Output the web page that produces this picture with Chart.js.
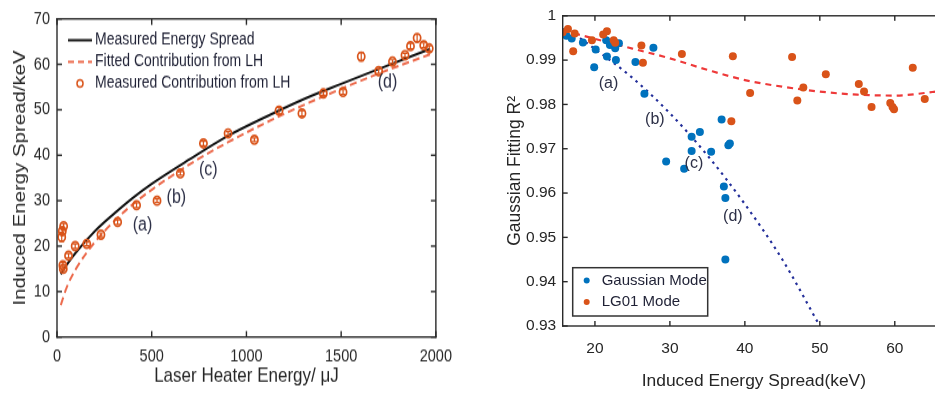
<!DOCTYPE html>
<html lang="en">
<head>
<meta charset="UTF-8">
<title>Laser heater energy spread</title>
<style>
  html, body { margin: 0; padding: 0; background: #fff; overflow: hidden; }
  body { width: 935px; height: 395px; position: relative; }
  /* the left figure of the reference is stretched vertically */
  #leftWrap { position: absolute; left: 0; top: 0; width: 460px; height: 329px; transform: scaleY(1.2006); transform-origin: 0 0; }
  #rightWrap { position: absolute; left: 470px; top: 0; width: 485px; height: 395px; }
</style>
</head>
<body>
<div id="leftWrap"><canvas id="leftChart" width="460" height="329"></canvas></div>
<div id="rightWrap"><canvas id="rightChart" width="485" height="395"></canvas></div>
<script src="https://cdn.jsdelivr.net/npm/chart.js"></script>
<script>
// ---- left panel: induced energy spread vs laser heater energy ----
const lhEnergy = [25, 28, 35, 31, 33, 61, 96, 157, 232, 320, 420, 528, 651, 773, 903, 1042, 1172, 1293, 1406, 1510, 1606, 1698, 1771, 1837, 1866, 1901, 1936, 1965];
const lhSpread = [22.0, 23.3, 24.4, 15.8, 15.0, 17.9, 20.0, 20.5, 22.5, 25.3, 29.0, 30.0, 36.0, 42.6, 44.8, 43.4, 49.8, 49.2, 53.6, 53.9, 61.7, 58.5, 60.6, 62.0, 64.0, 65.8, 64.2, 63.5];
const lhError  = [1.0, 0.8, 0.6, 0.6, 0.5, 0.5, 0.5, 0.4, 0.4, 0.5, 0.5, 0.4, 0.4, 0.5, 0.4, 0.4, 0.7, 0.6, 0.4, 0.5, 0.9, 0.5, 0.4, 0.4, 0.6, 0.8, 0.5, 0.6];

const curveEnergy   = [20, 50, 100, 200, 300, 400, 500, 700, 900, 1100, 1300, 1500, 1700, 1970];
const measuredCurve = [13.8, 15.8, 18.6, 23.3, 27.1, 30.6, 33.7, 39.1, 44.2, 48.4, 52.3, 55.7, 59.0, 63.4];
const fittedCurve   = [7.0, 10.8, 15.0, 20.9, 25.4, 29.2, 32.4, 38.0, 42.8, 47.1, 51.0, 54.6, 58.0, 62.2];

const leftXTicks = [0, 500, 1000, 1500, 2000];
const leftYTicks = [0, 10, 20, 30, 40, 50, 60, 70];
const leftNotes  = [['(a)', 451, 24.6], ['(b)', 630, 30.6], ['(c)', 799, 36.7], ['(d)', 1745, 55.9]];

// ---- right panel: Gaussian fitting R^2 vs induced energy spread ----
const gaussX = [15.8, 16.2, 16.9, 18.4, 19.9, 20.1, 21.5, 21.6, 22.0, 22.7, 22.8, 23.2, 25.4, 27.8, 26.6, 29.5, 31.9, 32.9, 32.9, 34.0, 35.5, 36.9, 37.2, 37.4, 37.8, 38.0, 37.4];
const gaussY = [0.9963, 0.9955, 0.9949, 0.9940, 0.9884, 0.9924, 0.9945, 0.9908, 0.9934, 0.9927, 0.9900, 0.9938, 0.9896, 0.9928, 0.9824, 0.9671, 0.9655, 0.9695, 0.9727, 0.9738, 0.9693, 0.9766, 0.9615, 0.9589, 0.9708, 0.9712, 0.9450];
const lgX = [15.7, 16.4, 17.3, 17.1, 19.6, 21.1, 21.6, 22.5, 22.7, 26.2, 26.4, 31.6, 38.4, 38.2, 40.7, 46.3, 47.0, 47.8, 50.8, 55.2, 55.9, 56.9, 59.4, 59.7, 59.9, 62.4, 64.0];
const lgY = [0.9963, 0.9970, 0.9960, 0.9920, 0.9945, 0.9958, 0.9965, 0.9945, 0.9939, 0.9933, 0.9894, 0.9914, 0.9909, 0.9762, 0.9826, 0.9907, 0.9809, 0.9838, 0.9868, 0.9846, 0.9829, 0.9794, 0.9803, 0.9794, 0.9789, 0.9883, 0.9812];

const gaussFitX = [16.5, 20, 25, 30, 35, 40, 45, 50];
const gaussFitY = [0.9968, 0.9925, 0.9860, 0.9780, 0.9685, 0.9575, 0.9450, 0.9300];
const lgFitX = [15.8, 20, 25, 30, 35, 40, 45, 50, 55, 60, 65, 67];
const lgFitY = [0.9967, 0.9948, 0.9926, 0.9904, 0.9878, 0.9855, 0.9840, 0.9829, 0.9822, 0.9820, 0.9828, 0.9833];

const rightXTicks = [20, 30, 40, 50, 60];
const rightYTicks = [0.93, 0.94, 0.95, 0.96, 0.97, 0.98, 0.99, 1];
const rightNotes  = [['(a)', 21.8, 0.9846], ['(b)', 28.0, 0.9766], ['(c)', 33.2, 0.9667], ['(d)', 38.4, 0.9546]];

const FONT = 'Liberation Sans, Arial, Helvetica, sans-serif';
const INK = '#262626';

function pts(xs, ys) { return xs.map((x, i) => ({ x: x, y: ys[i] })); }

// error bars, axes box with inward ticks, text notes and legend
function extrasPlugin(cfg) {
  return {
    id: 'extras',
    afterDatasetsDraw(chart) {
      const ctx = chart.ctx;
      const xs = chart.scales.x, ys = chart.scales.y;
      ctx.save();
      ctx.setLineDash([]);
      if (cfg.errors) {
        ctx.strokeStyle = '#d95319';
        ctx.lineWidth = 1.2;
        cfg.errors.x.forEach((x, i) => {
          const px = xs.getPixelForValue(x);
          const p1 = ys.getPixelForValue(cfg.errors.y[i] - cfg.errors.e[i]);
          const p2 = ys.getPixelForValue(cfg.errors.y[i] + cfg.errors.e[i]);
          ctx.beginPath();
          ctx.moveTo(px, p1); ctx.lineTo(px, p2);
          ctx.moveTo(px - 2.5, p1); ctx.lineTo(px + 2.5, p1);
          ctx.moveTo(px - 2.5, p2); ctx.lineTo(px + 2.5, p2);
          ctx.stroke();
        });
      }
      // box and inward ticks as thin filled strips
      const L = xs.getPixelForValue(cfg.xr[0]), R = xs.getPixelForValue(cfg.xr[1]);
      const B = ys.getPixelForValue(cfg.yr[0]), T = ys.getPixelForValue(cfg.yr[1]);
      const w = 1.4, k = 5;
      ctx.fillStyle = '#2a2a2a';
      ctx.fillRect(L - w / 2, T - w / 2, R - L + w, w);
      ctx.fillRect(L - w / 2, B - w / 2, R - L + w, w);
      ctx.fillRect(L - w / 2, T - w / 2, w, B - T + w);
      ctx.fillRect(R - w / 2, T - w / 2, w, B - T + w);
      cfg.xt.forEach(v => {
        const px = xs.getPixelForValue(v);
        ctx.fillRect(px - w / 2, B - k, w, k);
        ctx.fillRect(px - w / 2, T, w, k);
      });
      cfg.yt.forEach(v => {
        const py = ys.getPixelForValue(v);
        ctx.fillRect(L, py - w / 2, k, w);
        ctx.fillRect(R - k, py - w / 2, k, w);
      });

      ctx.fillStyle = '#2d3047';
      ctx.font = '16px ' + FONT;
      ctx.textAlign = 'center';
      ctx.textBaseline = 'middle';
      cfg.notes.forEach(n => ctx.fillText(n[0], xs.getPixelForValue(n[1]), ys.getPixelForValue(n[2])));
      const lg = cfg.legend;
      if (lg.box) {
        ctx.fillStyle = '#fff';
        ctx.fillRect(lg.box[0], lg.box[1], lg.box[2], lg.box[3]);
        ctx.strokeStyle = '#333';
        ctx.lineWidth = 1.5;
        ctx.strokeRect(lg.box[0], lg.box[1], lg.box[2], lg.box[3]);
      }
      ctx.font = lg.size + 'px ' + FONT;
      ctx.textAlign = 'left';
      lg.items.forEach((it, i) => {
        const y = lg.y0 + i * lg.dy;
        ctx.save();
        if (it.kind === 'line') {
          ctx.strokeStyle = it.color;
          ctx.lineWidth = 2;
          ctx.setLineDash(it.dash || []);
          ctx.beginPath();
          ctx.moveTo(lg.x0 - 12, y); ctx.lineTo(lg.x0 + 12, y);
          ctx.stroke();
        } else if (it.kind === 'ring') {
          ctx.strokeStyle = it.color;
          ctx.lineWidth = 1.5;
          ctx.beginPath(); ctx.arc(lg.x0, y, 3, 0, Math.PI * 2); ctx.stroke();
        } else {
          ctx.fillStyle = it.color;
          ctx.beginPath(); ctx.arc(lg.x0, y, 3, 0, Math.PI * 2); ctx.fill();
        }
        ctx.restore();
        ctx.fillStyle = '#1f2135';
        ctx.fillText(it.text, lg.tx, y);
      });
      ctx.restore();
    }
  };
}

function axis(opts) {
  return {
    type: 'linear',
    min: opts.min, max: opts.max,
    afterBuildTicks: s => { s.ticks = opts.ticks.map(v => ({ value: v })); },
    afterFit: s => { if (opts.width) s.width = opts.width; if (opts.height) s.height = opts.height; },
    grid: { display: false, drawTicks: false },
    border: { display: false },
    ticks: {
      padding: opts.pad, color: INK, font: { family: FONT, size: opts.tickSize },
      callback: opts.fmt || (v => String(v))
    },
    title: {
      display: true, text: opts.title, color: INK,
      font: { family: FONT, size: opts.titleSize },
      padding: opts.titlePad
    }
  };
}

new Chart(document.getElementById('leftChart'), {
  type: 'scatter',
  data: {
    datasets: [
      {
        label: 'Measured Contribution from LH', order: 0,
        data: pts(lhEnergy, lhSpread),
        pointRadius: 3.6, pointBorderWidth: 1.7,
        pointBorderColor: '#d95319', pointBackgroundColor: 'rgba(0,0,0,0)'
      },
      {
        label: 'Measured Energy Spread', type: 'line', order: 1,
        data: pts(curveEnergy, measuredCurve),
        borderColor: '#111', borderWidth: 2, pointRadius: 0,
        cubicInterpolationMode: 'monotone'
      },
      {
        label: 'Fitted Contribution from LH', type: 'line', order: 2,
        data: pts(curveEnergy, fittedCurve),
        borderColor: '#ec6a4c', borderWidth: 2, borderDash: [7, 4], pointRadius: 0,
        cubicInterpolationMode: 'monotone'
      }
    ]
  },
  options: {
    responsive: false, animation: false,
    layout: { padding: { left: 0, right: 18, top: 12.5, bottom: 0 } },
    plugins: { legend: { display: false }, tooltip: { enabled: false } },
    scales: {
      x: axis({ min: 0, max: 2000, ticks: leftXTicks, height: 48.3, pad: 8, tickSize: 14.5,
                title: 'Laser Heater Energy/ \u03bcJ', titleSize: 17, titlePad: { top: 0, bottom: 5.8 } }),
      y: axis({ min: 0, max: 70, ticks: leftYTicks, width: 57, pad: 7, tickSize: 14.5,
                title: 'Induced Energy Spread/keV', titleSize: 17, titlePad: { top: 9.8, bottom: 0 } })
    }
  },
  plugins: [extrasPlugin({
    errors: { x: lhEnergy, y: lhSpread, e: lhError },
    xr: [0, 2000], yr: [0, 70], xt: leftXTicks, yt: leftYTicks,
    notes: leftNotes,
    legend: {
      x0: 80, tx: 95, y0: 33.5, dy: 18, size: 14,
      items: [
        { kind: 'line', color: '#111', text: 'Measured Energy Spread' },
        { kind: 'line', color: '#ec6a4c', dash: [6, 4], text: 'Fitted Contribution from LH' },
        { kind: 'ring', color: '#d95319', text: 'Measured Contribution from LH' }
      ]
    }
  })]
});

new Chart(document.getElementById('rightChart'), {
  type: 'scatter',
  data: {
    datasets: [
      {
        label: 'LG01 Mode', order: 0, data: pts(lgX, lgY),
        pointRadius: 4, pointBorderWidth: 0, pointBackgroundColor: '#d95319'
      },
      {
        label: 'Gaussian Mode', order: 1, data: pts(gaussX, gaussY),
        pointRadius: 4, pointBorderWidth: 0, pointBackgroundColor: '#0072bd'
      },
      {
        label: 'Gaussian fit', type: 'line', order: 2, data: pts(gaussFitX, gaussFitY),
        borderColor: '#25309a', borderWidth: 2.2, borderDash: [2.5, 4.5], pointRadius: 0,
        cubicInterpolationMode: 'monotone'
      },
      {
        label: 'LG01 fit', type: 'line', order: 3, data: pts(lgFitX, lgFitY),
        borderColor: '#ee3a3a', borderWidth: 2.2, borderDash: [6, 5], pointRadius: 0,
        cubicInterpolationMode: 'monotone'
      }
    ]
  },
  options: {
    responsive: false, animation: false,
    layout: { padding: { left: 0, right: 10, top: 12.7, bottom: 0 } },
    plugins: { legend: { display: false }, tooltip: { enabled: false } },
    scales: {
      x: axis({ min: 15.7, max: 66.7, ticks: rightXTicks, height: 69, pad: 13, tickSize: 15.5,
                title: 'Induced Energy Spread(keV)', titleSize: 17.4, titlePad: { top: 0, bottom: 3.6 } }),
      y: axis({ min: 0.93, max: 1, ticks: rightYTicks, width: 92.7, pad: 6.5, tickSize: 15.5,
                fmt: v => (v === 1 ? '1' : v.toFixed(2)),
                title: 'Gaussian Fitting R\u00b2', titleSize: 17.5, titlePad: { top: 34.5, bottom: 0 } })
    }
  },
  plugins: [extrasPlugin({
    xr: [15.7, 66.7], yr: [0.93, 1], xt: rightXTicks, yt: rightYTicks,
    notes: rightNotes,
    legend: {
      box: [102.7, 267.7, 135, 48.3],
      x0: 116.7, tx: 131.7, y0: 280.5, dy: 21.5, size: 15,
      items: [
        { kind: 'dot', color: '#0072bd', text: 'Gaussian Mode' },
        { kind: 'dot', color: '#d95319', text: 'LG01 Mode' }
      ]
    }
  })]
});
</script>
</body>
</html>
